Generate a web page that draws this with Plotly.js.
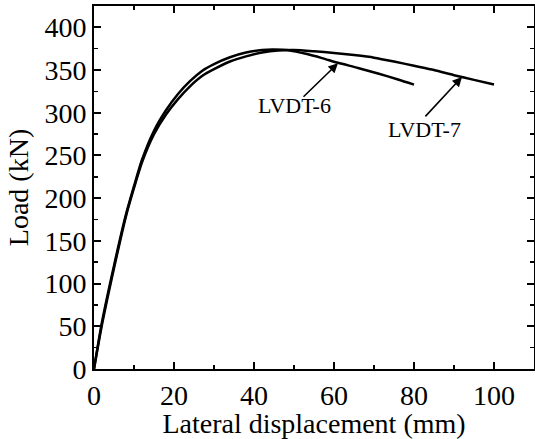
<!DOCTYPE html>
<html>
<head>
<meta charset="utf-8">
<script src="https://cdn.plot.ly/plotly-3.0.1.min.js"></script>
<style>html,body{margin:0;padding:0;background:#fff;}#chart{width:535px;height:439px;}</style>
</head>
<body>
<div id="chart"></div>
<script>
// LVDT-6 series (displacement mm, load kN)
const lvdt6X = [0, 2, 5, 8, 10, 12, 15, 18, 21, 24, 27, 30, 34, 38, 42, 45, 49, 53, 57, 61, 66, 71, 76, 80];
const lvdt6Y = [0, 55, 121, 181, 214, 245, 279, 303, 322, 337, 349, 357, 365, 370.5, 373.5, 374, 373, 369, 364, 358.5, 352.5, 346, 339, 333];
// LVDT-7 series
const lvdt7X = [0, 2, 5, 8, 10, 12, 15, 18, 21, 24, 27, 30, 34, 38, 42, 46, 50, 55, 60, 65, 70, 75, 80, 85, 90, 95, 100];
const lvdt7Y = [0, 52, 118, 179, 212, 242, 275, 298, 316, 331, 343, 351, 360, 366, 370.5, 373, 373.5, 372, 370, 367.5, 364.5, 360, 355, 350, 344, 338.5, 333];
const seriesNames = ["LVDT-6", "LVDT-7"];
const xTicks = [0, 20, 40, 60, 80, 100];
const yTicks = [0, 50, 100, 150, 200, 250, 300, 350, 400];

const FONT = "Liberation Serif, Times New Roman, serif";
const lineStyle = {color: "#000", width: 2.5, shape: "spline", smoothing: 0.7};

const traces = [
  {x: lvdt6X, y: lvdt6Y, mode: "lines", name: seriesNames[0], line: lineStyle},
  {x: lvdt7X, y: lvdt7Y, mode: "lines", name: seriesNames[1], line: lineStyle}
];

const axisCommon = {
  showline: true, linecolor: "#000", linewidth: 2, mirror: "ticks",
  ticks: "inside", ticklen: 7, tickwidth: 2, tickcolor: "#000",
  showgrid: false, zeroline: false,
  tickfont: {family: FONT, size: 28, color: "#000"}
};

const layout = {
  width: 535, height: 439,
  margin: {l: 94, r: 1, t: 6, b: 70},
  paper_bgcolor: "#fff", plot_bgcolor: "#fff",
  showlegend: false,
  font: {family: FONT, color: "#000"},
  xaxis: Object.assign({}, axisCommon, {
    range: [0, 110], tickvals: xTicks, ticktext: xTicks.map(String),
    minor: {dtick: 10, tick0: 0, ticks: "inside", ticklen: 4, tickwidth: 1.5, tickcolor: "#000"},
    title: {text: "Lateral displacement (mm)", font: {family: FONT, size: 28, color: "#000"}, standoff: 0}
  }),
  yaxis: Object.assign({}, axisCommon, {
    range: [0, 425], tickvals: yTicks, ticktext: yTicks.map(String),
    minor: {dtick: 25, tick0: 0, ticks: "inside", ticklen: 4, tickwidth: 1.5, tickcolor: "#000"},
    title: {text: "Load (kN)", font: {family: FONT, size: 28, color: "#000"}, standoff: 8}
  }),
  annotations: [
    {x: 61, y: 358, ax: 52, ay: 317, xref: "x", yref: "y", axref: "x", ayref: "y",
     text: "", showarrow: true, arrowhead: 2, arrowsize: 1.2, arrowwidth: 1.6, arrowcolor: "#000"},
    {x: 92, y: 342, ax: 82.5, ay: 294, xref: "x", yref: "y", axref: "x", ayref: "y",
     text: "", showarrow: true, arrowhead: 2, arrowsize: 1.2, arrowwidth: 1.6, arrowcolor: "#000"},
    {x: 50, y: 309, xref: "x", yref: "y", text: seriesNames[0], showarrow: false,
     font: {family: FONT, size: 22, color: "#000"}},
    {x: 82.5, y: 280, xref: "x", yref: "y", text: seriesNames[1], showarrow: false,
     font: {family: FONT, size: 22, color: "#000"}}
  ]
};

Plotly.newPlot("chart", traces, layout, {displayModeBar: false, staticPlot: true});
</script>
</body>
</html>
